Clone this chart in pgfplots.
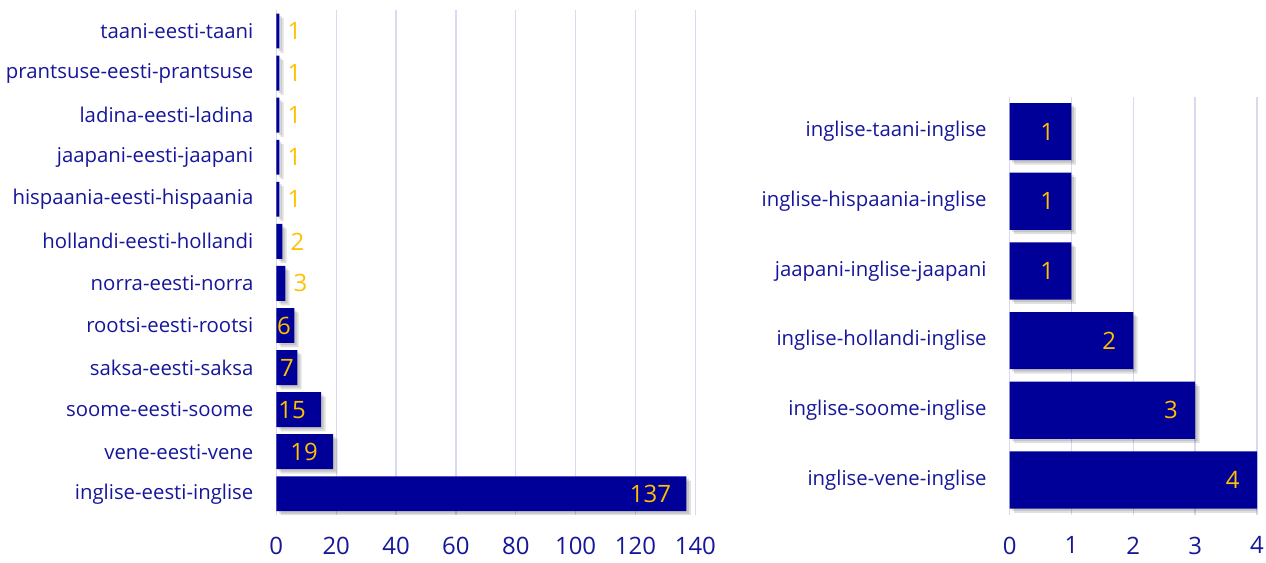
\documentclass[border=0pt]{standalone}
\usepackage{pgfplots}
\pgfplotsset{compat=1.18}
\usepackage{fontspec}
\setmainfont{Open Sans}
\definecolor{barblue}{RGB}{0,0,153}
\definecolor{txtblue}{RGB}{22,22,155}
\definecolor{lblgold}{RGB}{255,192,0}
\definecolor{gridlav}{RGB}{217,217,242}

\pgfplotsset{
  hbars/.style={
    scale only axis,
    xbar,
    axis line style={draw=none},
    major tick length=0pt,
    xmajorgrids,
    grid style={gridlav, line width=0.7pt},
    tick label style={text=txtblue},
    xticklabel style={font=\fontsize{12}{14}\selectfont, yshift=-7.5pt},
    yticklabel style={font=\fontsize{10.2}{12}\selectfont, xshift=-8pt},
    /pgf/number format/assume math mode=true,
    point meta=x,
    nodes near coords style={font=\fontsize{12}{14}\selectfont, text=lblgold,
      inner sep=0pt, anchor=east, xshift=-7.5pt},
  },
  barstyle/.style={fill=barblue, draw=none, bar shift=0pt, nodes near coords},
  shadowstyle/.style={fill=black, opacity=0.12, draw=none, bar shift=0pt,
    xshift=#1, yshift=-#1},
}

\begin{document}
\begin{tikzpicture}
\begin{axis}[hbars,
  width=210pt, height=253pt,
  xmin=0, xmax=140, xtick={0,20,...,140},
  ymin=-0.5, ymax=11.5, ytick={0,...,11},
  yticklabels={inglise-eesti-inglise, vene-eesti-vene, soome-eesti-soome,
    saksa-eesti-saksa, rootsi-eesti-rootsi, norra-eesti-norra,
    hollandi-eesti-hollandi, hispaania-eesti-hispaania, jaapani-eesti-jaapani,
    ladina-eesti-ladina, prantsuse-eesti-prantsuse, taani-eesti-taani},
  bar width=0.83,
]
  \addplot[shadowstyle=2.2pt] coordinates
  {(137,0) (19,1) (15,2) (7,3) (6,4) (3,5) (2,6) (1,7) (1,8) (1,9) (1,10) (1,11)};
  \addplot[shadowstyle=1.2pt] coordinates
  {(137,0) (19,1) (15,2) (7,3) (6,4) (3,5) (2,6) (1,7) (1,8) (1,9) (1,10) (1,11)};
  % label inside the end
  \addplot[barstyle] coordinates {(137,0) (19,1) (15,2)};
  % short bars: label pushed to the end
  \addplot[barstyle, nodes near coords style={xshift=6pt}] coordinates {(7,3) (6,4)};
  % too short: label outside
  \addplot[barstyle, nodes near coords style={anchor=west, xshift=11.5pt}] coordinates
  {(3,5) (2,6) (1,7) (1,8) (1,9) (1,10) (1,11)};
\end{axis}

\begin{axis}[hbars, at={(367.5pt,0pt)},
  width=124pt, height=209.5pt,
  xmin=0, xmax=4, xtick={0,...,4},
  ymin=-0.5, ymax=5.5, ytick={0,...,5},
  yticklabels={inglise-vene-inglise, inglise-soome-inglise, inglise-hollandi-inglise,
    jaapani-inglise-jaapani, inglise-hispaania-inglise, inglise-taani-inglise},
  bar width=0.82,
]
  \addplot[shadowstyle=2.2pt] coordinates {(4,0) (3,1) (2,2) (1,3) (1,4) (1,5)};
  \addplot[shadowstyle=1.2pt] coordinates {(4,0) (3,1) (2,2) (1,3) (1,4) (1,5)};
  \addplot[barstyle, nodes near coords style={xshift=-1pt}] coordinates
  {(4,0) (3,1) (2,2) (1,3) (1,4) (1,5)};
\end{axis}
\pgfresetboundingbox
\useasboundingbox (-138.5pt,-24pt) rectangle (496pt,258pt);
\end{tikzpicture}
\end{document}
